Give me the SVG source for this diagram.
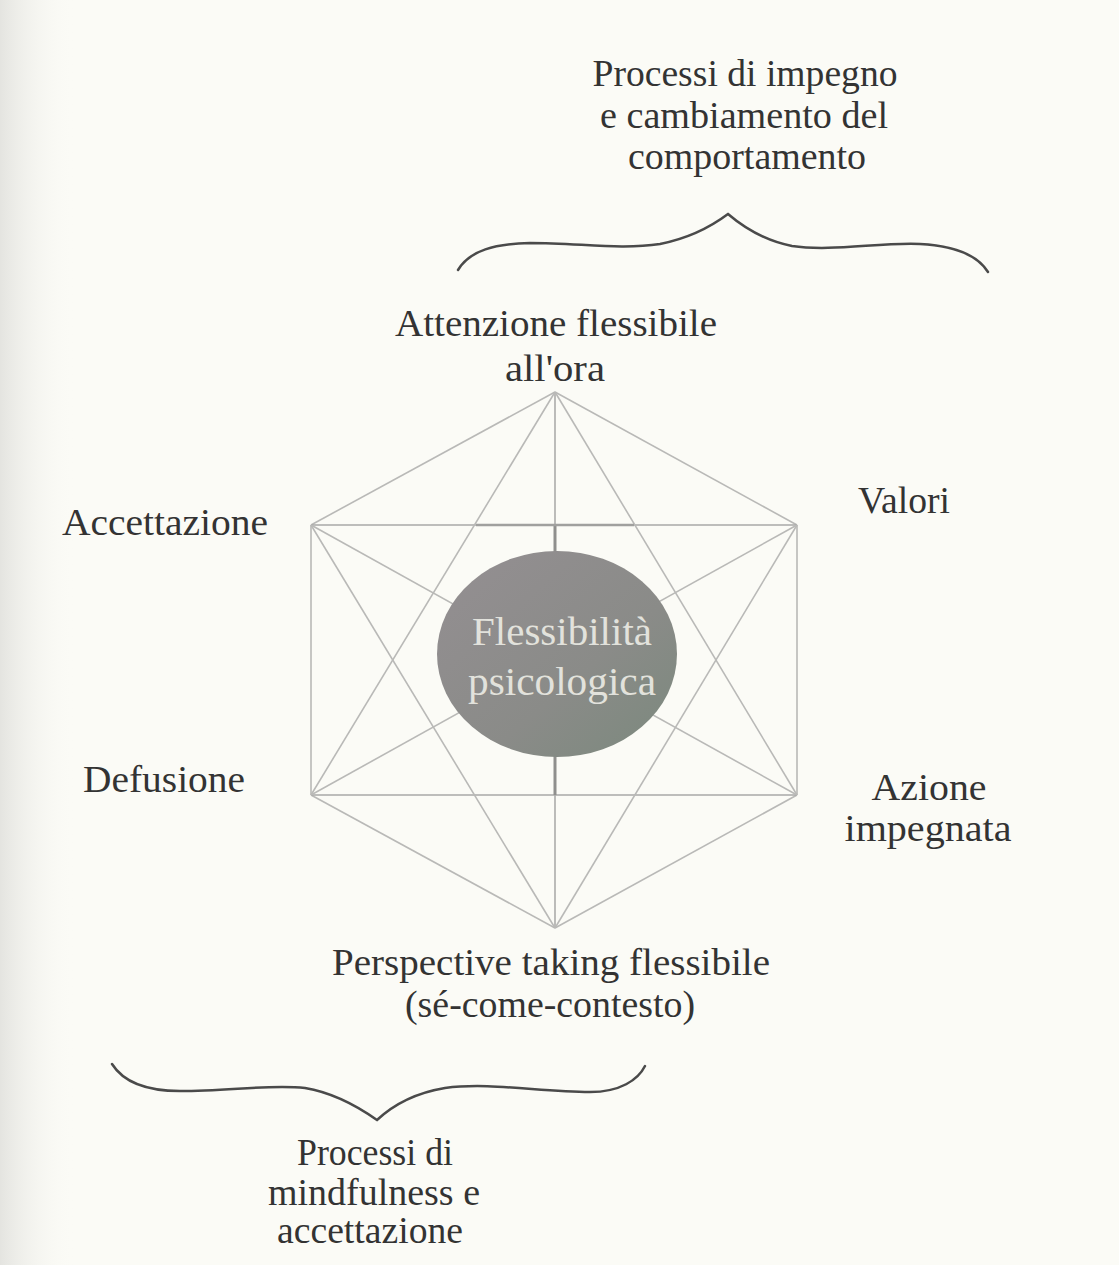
<svg xmlns="http://www.w3.org/2000/svg" width="1119" height="1265" viewBox="0 0 1119 1265">
<defs>
<linearGradient id="edge" x1="0" y1="0" x2="1" y2="0">
<stop offset="0" stop-color="#e4e4e0"/>
<stop offset="1" stop-color="#fbfbf6" stop-opacity="0"/>
</linearGradient>
<linearGradient id="ell" x1="0" y1="0" x2="1" y2="1">
<stop offset="0" stop-color="#948f92"/>
<stop offset="0.6" stop-color="#8a8b88"/>
<stop offset="1" stop-color="#7b897d"/>
</linearGradient>
<style>
.lbl{font-family:"Liberation Serif","Times New Roman",serif;font-size:38px;fill:#333;text-anchor:middle}
.in{font-family:"Liberation Serif","Times New Roman",serif;font-size:41px;fill:#e2e2dc;text-anchor:middle}
.ln{stroke:#b9b9b7;stroke-width:1.6;fill:none}
.dk{stroke:#8f8f8d;stroke-width:3;fill:none}
.br{stroke:#4a4a4a;stroke-width:2.5;fill:none;stroke-linecap:round}
</style>
</defs>
<rect width="1119" height="1265" fill="#fbfbf6"/>
<rect width="75" height="1265" fill="url(#edge)"/>

<g id="connectors">
<line class="ln" x1="555" y1="392" x2="797" y2="525"/>
<line class="ln" x1="797" y1="525" x2="797" y2="795"/>
<line class="ln" x1="797" y1="795" x2="555" y2="928"/>
<line class="ln" x1="555" y1="928" x2="311" y2="795"/>
<line class="ln" x1="311" y1="795" x2="311" y2="525"/>
<line class="ln" x1="311" y1="525" x2="555" y2="392"/>
<line class="ln" x1="311" y1="525" x2="797" y2="525" style="stroke:#a9a9a7"/>
<line class="ln" x1="311" y1="795" x2="797" y2="795" style="stroke:#a9a9a7"/>
<line class="ln" x1="555" y1="392" x2="555" y2="928" style="stroke:#acacaa"/>
<line class="ln" x1="555" y1="392" x2="311" y2="795"/>
<line class="ln" x1="555" y1="392" x2="797" y2="795"/>
<line class="ln" x1="555" y1="928" x2="311" y2="525"/>
<line class="ln" x1="555" y1="928" x2="797" y2="525"/>
<line class="ln" x1="311" y1="525" x2="797" y2="795"/>
<line class="ln" x1="311" y1="795" x2="797" y2="525"/>
<line class="dk" x1="555" y1="525" x2="555" y2="555"/>
<line class="dk" x1="555" y1="752" x2="555" y2="795"/>
<line class="dk" x1="476" y1="525" x2="634" y2="525" style="stroke-width:2.4;stroke:#a0a09e"/>
</g>

<g id="node-center">
<ellipse cx="557" cy="654" rx="120" ry="103" fill="url(#ell)"/>
<text class="in" x="562" y="645" textLength="180" lengthAdjust="spacingAndGlyphs">Flessibilità</text>
<text class="in" x="562" y="695" textLength="188" lengthAdjust="spacingAndGlyphs">psicologica</text>
</g>

<g id="node-attenzione">
<text class="lbl" x="556" y="336" textLength="322" lengthAdjust="spacingAndGlyphs">Attenzione flessibile</text>
<text class="lbl" x="555" y="381" textLength="100" lengthAdjust="spacingAndGlyphs">all'ora</text>
</g>
<g id="node-valori">
<text class="lbl" x="904" y="513" textLength="92" lengthAdjust="spacingAndGlyphs">Valori</text>
</g>
<g id="node-azione">
<text class="lbl" x="929" y="800" textLength="115" lengthAdjust="spacingAndGlyphs">Azione</text>
<text class="lbl" x="928" y="841" textLength="167" lengthAdjust="spacingAndGlyphs">impegnata</text>
</g>
<g id="node-perspective">
<text class="lbl" x="551" y="975" textLength="438" lengthAdjust="spacingAndGlyphs">Perspective taking flessibile</text>
<text class="lbl" x="550" y="1017" textLength="290" lengthAdjust="spacingAndGlyphs">(sé-come-contesto)</text>
</g>
<g id="node-defusione">
<text class="lbl" x="164" y="792" textLength="162" lengthAdjust="spacingAndGlyphs">Defusione</text>
</g>
<g id="node-accettazione">
<text class="lbl" x="165" y="535" textLength="206" lengthAdjust="spacingAndGlyphs">Accettazione</text>
</g>

<g id="group-impegno">
<text class="lbl" x="745" y="86" textLength="305" lengthAdjust="spacingAndGlyphs">Processi di impegno</text>
<text class="lbl" x="744" y="128" textLength="288" lengthAdjust="spacingAndGlyphs">e cambiamento del</text>
<text class="lbl" x="747" y="169" textLength="238" lengthAdjust="spacingAndGlyphs">comportamento</text>
<path class="br" d="M458,270 C470,250 495,244 530,243 C580,243 620,250 660,244 C690,238 712,226 728,214 C742,226 762,240 792,246 C832,252 880,242 920,244 C958,246 978,256 988,272"/>
</g>

<g id="group-mindfulness">
<path class="br" d="M112,1064 C124,1083 148,1091 180,1091 C230,1091 270,1084 305,1088 C335,1093 360,1108 377,1120 C392,1106 415,1093 445,1088 C490,1082 540,1092 590,1092 C620,1092 638,1080 645,1066"/>
<text class="lbl" x="375" y="1165" textLength="156" lengthAdjust="spacingAndGlyphs">Processi di</text>
<text class="lbl" x="374" y="1205" textLength="212" lengthAdjust="spacingAndGlyphs">mindfulness e</text>
<text class="lbl" x="370" y="1243" textLength="186" lengthAdjust="spacingAndGlyphs">accettazione</text>
</g>
</svg>
